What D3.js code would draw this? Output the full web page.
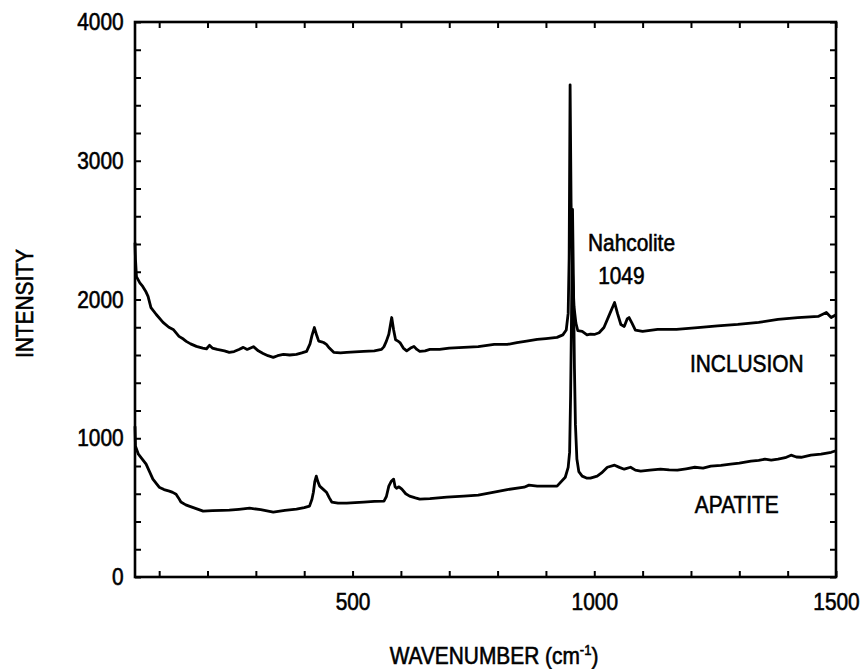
<!DOCTYPE html>
<html>
<head>
<meta charset="utf-8">
<script src="https://cdn.jsdelivr.net/npm/d3@7"></script>
<style>
  body { margin: 0; background: #fff; }
  svg text { font-family: "Liberation Sans", Arial, sans-serif; fill: #000; stroke: #000; stroke-width: 0.6px; }
</style>
</head>
<body>
<div id="chart"></div>
<script>
// Raman spectra: inclusion (upper) and host apatite (lower)
const inclusionWave = [50, 51, 53, 60, 66, 72, 77, 83, 94, 108, 120, 129, 141, 150, 156, 165, 177, 190, 198, 204,
    210, 220, 235, 245, 255, 265, 274, 282, 295, 305, 315, 325, 336, 345, 357, 370, 384, 395, 405, 412,
    416, 421, 426, 430, 436, 440, 446, 452, 461, 475, 488, 505, 523, 545, 560, 565, 570, 575, 581, 585,
    589, 594, 598, 605, 612, 620, 627, 633, 639, 650, 660, 680, 700, 730, 760, 793, 820, 840, 860, 882,
    900, 923, 935, 942, 946, 948, 950, 952, 955, 958, 962, 966, 975, 985, 992, 1000, 1010, 1020, 1030, 1042,
    1048, 1055, 1062, 1068, 1072, 1078, 1085, 1100, 1131, 1170, 1214, 1255, 1297, 1340, 1380, 1421, 1463, 1480, 1490, 1500];
const inclusionInt = [2410, 2290, 2165, 2120, 2094, 2060, 2022, 1942, 1892, 1835, 1800, 1784, 1734, 1715, 1698, 1680, 1662, 1650, 1645, 1670,
    1650, 1640, 1630, 1619, 1625, 1640, 1655, 1640, 1660, 1630, 1611, 1595, 1583, 1595, 1604, 1600, 1604, 1615, 1626, 1680,
    1740, 1798, 1740, 1700, 1695, 1690, 1676, 1650, 1619, 1615, 1619, 1622, 1626, 1630, 1640, 1660, 1700, 1750, 1870, 1780,
    1710, 1700, 1690, 1650, 1630, 1650, 1662, 1640, 1626, 1630, 1640, 1640, 1650, 1655, 1660, 1676, 1676, 1690, 1700, 1712,
    1718, 1727, 1745, 1780, 1900, 2300, 3547, 2700, 2200, 1950, 1830, 1775, 1770, 1745, 1750, 1748, 1760, 1798, 1880, 1978,
    1900, 1820, 1806, 1860, 1870, 1830, 1780, 1770, 1784, 1784, 1798, 1810, 1820, 1835, 1856, 1870, 1878, 1906, 1870, 1890];

const apatiteWave = [50, 51, 57, 65, 73, 80, 87, 100, 110, 121, 128, 135, 140, 145, 155, 162, 175, 191, 210, 230,
    245, 265, 287, 310, 336, 360, 384, 400, 411, 416, 419, 422, 425, 428, 432, 440, 446, 452, 457, 470,
    488, 505, 523, 545, 565, 570, 575, 580, 585, 588, 591, 596, 602, 610, 618, 630, 639, 660, 695, 730,
    760, 793, 820, 855, 865, 882, 923, 940, 946, 949, 951, 953, 955, 957, 959, 961, 964, 968, 975, 985,
    992, 1006, 1015, 1027, 1042, 1052, 1062, 1075, 1085, 1096, 1115, 1137, 1155, 1172, 1190, 1208, 1225, 1241, 1262, 1282,
    1300, 1324, 1340, 1353, 1366, 1380, 1395, 1407, 1418, 1428, 1448, 1469, 1490, 1500];
const apatiteInt = [1086, 942, 885, 850, 813, 760, 705, 647, 630, 619, 610, 597, 570, 540, 520, 511, 495, 475, 478, 480,
    482, 488, 496, 485, 468, 480, 489, 500, 511, 560, 611, 690, 727, 690, 655, 630, 611, 570, 540, 532,
    532, 536, 540, 545, 547, 580, 655, 690, 705, 650, 640, 650, 633, 600, 583, 570, 561, 565, 576, 583,
    590, 611, 630, 647, 662, 655, 655, 719, 790, 900, 1300, 1900, 2650, 2100, 1500, 1100, 850, 760, 727, 712,
    712, 727, 750, 791, 806, 790, 777, 791, 770, 763, 770, 777, 772, 770, 780, 791, 785, 799, 805, 813,
    820, 835, 840, 849, 842, 849, 860, 878, 865, 863, 878, 885, 899, 910];

const xTicks = d3.range(100, 1501, 100);
const xLabels = [500, 1000, 1500];
const yTicks = d3.range(0, 4001, 200);
const yLabels = [0, 1000, 2000, 3000, 4000];

const labels = [
    { text: "Nahcolite", x: 987, y: 2350 },
    { text: "1049", x: 1008, y: 2110 },
    { text: "INCLUSION", x: 1198, y: 1480 },
    { text: "APATITE", x: 1208, y: 460 }
];

const width = 864, height = 669;
const margin = { top: 22, right: 28, bottom: 92, left: 135 };
const squeeze = "scale(0.87,1)";

const svg = d3.select("#chart").append("svg")
    .attr("width", width)
    .attr("height", height);

const x = d3.scaleLinear().domain([50, 1500]).range([margin.left, width - margin.right]);
const y = d3.scaleLinear().domain([0, 4000]).range([height - margin.bottom, margin.top]);

// frame
svg.append("rect")
    .attr("x", x(50)).attr("y", y(4000))
    .attr("width", x(1500) - x(50)).attr("height", y(0) - y(4000))
    .attr("fill", "none").attr("stroke", "#000").attr("stroke-width", 2.6);

// inward ticks on all four sides
let bottomAxis = svg.append("g")
    .attr("transform", `translate(0,${y(0)})`)
    .call(d3.axisBottom(x).tickValues(xTicks).tickSize(-6).tickPadding(16)
        .tickFormat(d => xLabels.includes(d) ? d : ""));
let leftAxis = svg.append("g")
    .attr("transform", `translate(${x(50)},0)`)
    .call(d3.axisLeft(y).tickValues(yTicks).tickSize(-6).tickPadding(13)
        .tickFormat(d => yLabels.includes(d) ? d : ""));
svg.append("g")
    .attr("transform", `translate(0,${y(4000)})`)
    .call(d3.axisTop(x).tickValues(xTicks).tickSize(-6).tickFormat(""));
svg.append("g")
    .attr("transform", `translate(${x(1500)},0)`)
    .call(d3.axisRight(y).tickValues(yTicks).tickSize(-6).tickFormat(""));

svg.selectAll(".domain").remove();
svg.selectAll(".tick line").attr("stroke", "#000").attr("stroke-width", 2);
[bottomAxis, leftAxis].forEach(g => {
    g.selectAll("text")
        .attr("font-size", 24)
        .attr("font-family", "Liberation Sans, Arial, sans-serif")
        .attr("transform", squeeze);
});

// spectra
const line = d3.line()
    .x(d => x(d[0]))
    .y(d => y(d[1]));

const inclusion = d3.zip(inclusionWave, inclusionInt);
const apatite = d3.zip(apatiteWave, apatiteInt);

[inclusion, apatite].forEach(series => {
    svg.append("path")
        .datum(series)
        .attr("fill", "none")
        .attr("stroke", "#000")
        .attr("stroke-width", 2.8)
        .attr("stroke-linejoin", "round")
        .attr("d", line);
});

// annotations
labels.forEach(l => {
    svg.append("text")
        .attr("transform", `translate(${x(l.x)},${y(l.y)}) ${squeeze}`)
        .attr("font-size", 24)
        .text(l.text);
});

// axis titles
let xTitle = svg.append("text")
    .attr("transform", `translate(494,664) ${squeeze}`)
    .attr("text-anchor", "middle")
    .attr("font-size", 24);
xTitle.append("tspan").text("WAVENUMBER (cm");
xTitle.append("tspan").attr("font-size", 15).attr("dy", -9).text("-1");
xTitle.append("tspan").attr("dy", 9).text(")");

svg.append("text")
    .attr("transform", `translate(33,${(y(0) + y(4000)) / 2 + 4}) rotate(-90) ${squeeze}`)
    .attr("text-anchor", "middle")
    .attr("font-size", 24)
    .text("INTENSITY");
</script>
</body>
</html>
